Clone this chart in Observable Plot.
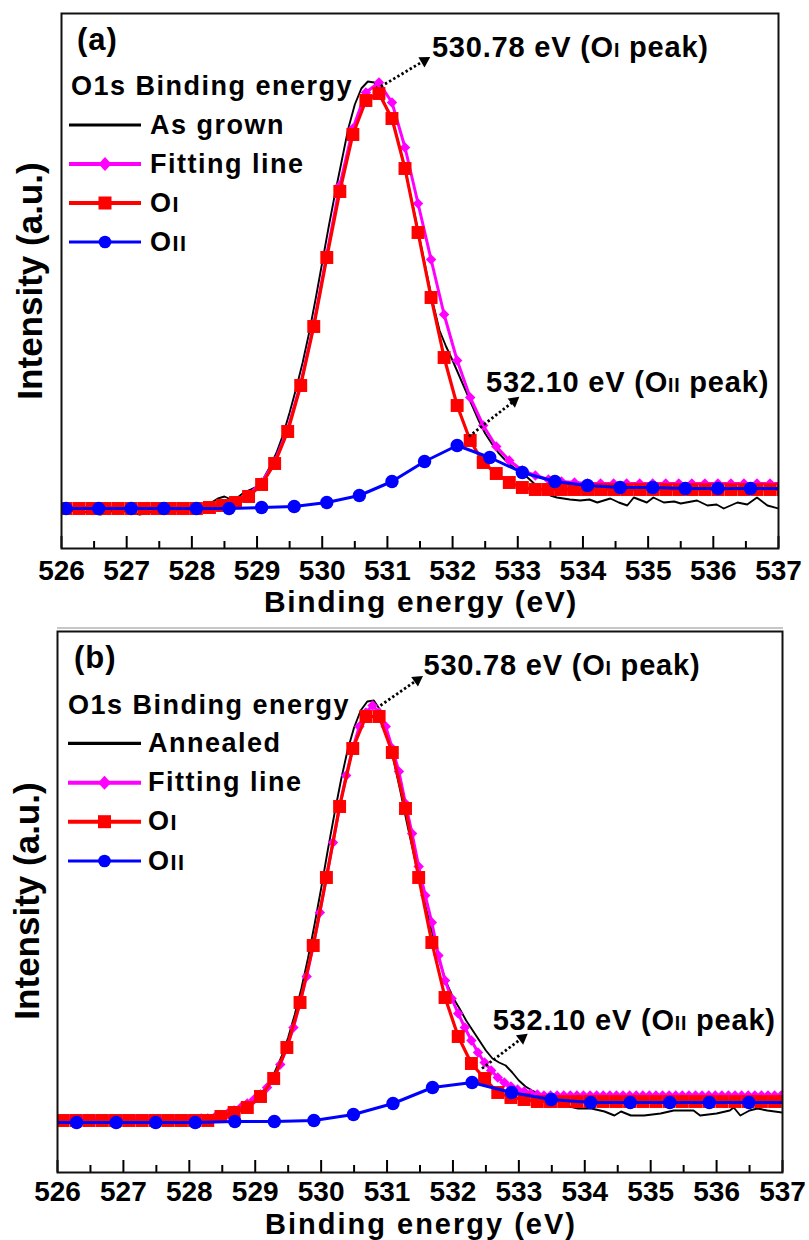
<!DOCTYPE html>
<html>
<head>
<meta charset="utf-8">
<script src="https://cdn.jsdelivr.net/npm/d3@7"></script>
<script src="https://cdn.jsdelivr.net/npm/@observablehq/plot@0.6"></script>
<style>
  html, body { margin: 0; padding: 0; background: #fff; }
  #wrap { width: 809px; height: 1240px; overflow: hidden; position: relative; }
  #wrap svg { display: block; }
  #wrap [aria-label="x-axis tick label"] text { font-weight: bold; }
</style>
</head>
<body>
<div id="wrap"></div>
<script>
// ---------------- DATA (binding energy in eV, intensity in a.u.) ----------------
// Panel (a): As grown
const gridA = [526.07, 526.27, 526.47, 526.67, 526.87, 527.07, 527.27, 527.47, 527.67, 527.87,
  528.07, 528.27, 528.47, 528.67, 528.87, 529.07, 529.27, 529.47, 529.67, 529.87,
  530.07, 530.27, 530.47, 530.67, 530.87, 531.07, 531.27, 531.47, 531.67, 531.87,
  532.07, 532.27, 532.47, 532.67, 532.87, 533.07, 533.27, 533.47, 533.67, 533.87,
  534.07, 534.27, 534.47, 534.67, 534.87, 535.07, 535.27, 535.47, 535.67, 535.87,
  536.07, 536.27, 536.47, 536.67, 536.87, 537.07];
const o1A = [40, 40, 40, 40, 40, 40, 40, 40, 40, 40, 40,
  41, 43, 46, 52, 64, 85, 117, 163, 222,
  291, 357, 414, 448, 455, 430, 380, 316, 251, 191,
  143, 108, 86, 75, 66, 61,
  59, 59, 59, 59, 59, 59, 59, 59, 59, 59, 59, 59, 59, 59, 59, 59, 59, 59, 59, 59];
const fitA = [41, 41, 41, 41, 41, 41, 41, 41, 41, 41, 41,
  42, 43, 47, 54, 66, 87, 119, 165, 224,
  294, 363, 420, 456, 466, 446, 401, 345, 289, 234,
  188, 151, 123, 102, 88, 78, 73, 69, 67, 66,
  65, 65, 65, 65, 65, 65, 65, 65, 65, 65, 65, 65, 65, 65, 65, 65];
const expAx = [526.0, 526.2, 526.4, 526.6, 526.8, 527.0, 527.2, 527.4, 527.6, 527.8, 528.0,
  528.2, 528.3, 528.4, 528.5, 528.6, 528.7, 528.8, 528.9, 529.0, 529.1, 529.2,
  529.3, 529.4, 529.5, 529.6, 529.7, 529.8, 529.9, 530.0, 530.1, 530.2,
  530.3, 530.4, 530.5, 530.6, 530.7, 530.8, 530.9, 531.0, 531.1, 531.2,
  531.3, 531.4, 531.5, 531.6, 531.7, 531.8, 531.9, 532.0, 532.1, 532.2,
  532.3, 532.4, 532.5, 532.6, 532.7, 532.8, 532.9, 533.0, 533.1, 533.2,
  533.3, 533.4, 533.5, 533.6,
  533.8, 533.96, 534.1, 534.22, 534.42, 534.55, 534.68, 534.78, 534.98, 535.08, 535.24,
  535.4, 535.5, 535.75, 535.91, 536.05, 536.16, 536.37, 536.52, 536.67, 536.83, 537.0];
const expAy = [37, 38, 36, 34, 38, 37, 34, 37, 38, 38, 39,
  42, 46, 50, 52, 49, 51, 56, 59, 62, 70, 82,
  96, 114, 136, 160, 186, 216, 250, 286, 322, 356,
  388, 420, 444, 460, 467, 466, 454, 438, 423, 398,
  370, 340, 308, 276, 245, 218, 202, 188, 173, 158,
  143, 128, 115, 105, 96, 89, 83, 78, 74, 68,
  62, 57, 53, 51,
  49, 48, 49, 46, 50, 46, 43, 51, 46, 51, 46,
  47, 45, 48, 43, 44, 40, 46, 44, 51, 43, 40];
const o2Ax = [526.07, 526.57, 527.07, 527.57, 528.07, 528.57, 529.07, 529.57, 530.07, 530.57, 531.07,
  531.57, 532.07, 532.57, 533.07, 533.57, 534.07, 534.57, 535.07, 535.57, 536.07, 536.57, 537.0];
const o2Ay = [40, 40, 40, 40, 40, 40, 41, 42, 46, 53, 67,
  87, 103, 91, 76, 67, 63, 61, 61, 60, 60, 60, 60];

// Panel (b): Annealed
const gridB = [526.08, 526.28, 526.48, 526.68, 526.88, 527.08, 527.28, 527.48, 527.68, 527.88,
  528.08, 528.28, 528.48, 528.68, 528.88, 529.08, 529.28, 529.48, 529.68, 529.88,
  530.08, 530.28, 530.48, 530.68, 530.88, 531.08, 531.28, 531.48, 531.68, 531.88,
  532.08, 532.28, 532.48, 532.68, 532.88, 533.08, 533.28, 533.48, 533.68, 533.88,
  534.08, 534.28, 534.48, 534.68, 534.88, 535.08, 535.28, 535.48, 535.68, 535.88,
  536.08, 536.28, 536.48, 536.68, 536.88, 537.08];
const o1B = [52, 52, 52, 52, 52, 52, 52, 52, 52, 52, 52, 52,
  56, 60, 65, 76, 94, 125, 170, 227,
  295, 366, 424, 456, 456, 420, 364, 295, 230, 175,
  136, 109, 94, 80, 75, 73,
  71, 71, 71, 71, 71, 71, 71, 71, 71, 71, 71, 71, 71, 71, 71, 71, 71, 71, 71, 71];
const fitBx = [526.08, 526.18, 526.28, 526.38, 526.48, 526.58, 526.68, 526.78, 526.88, 526.98,
  527.08, 527.18, 527.28, 527.38, 527.48, 527.58, 527.68, 527.78, 527.88, 527.98,
  528.08, 528.18, 528.28, 528.38, 528.48, 528.58, 528.68, 528.78, 528.88, 528.98,
  529.08, 529.18, 529.28, 529.38, 529.48, 529.58, 529.68, 529.78, 529.88, 529.98,
  530.08, 530.18, 530.28, 530.38, 530.48, 530.58, 530.68, 530.78, 530.88, 530.98,
  531.08, 531.18, 531.28, 531.38, 531.48, 531.58, 531.68, 531.78, 531.88, 531.98,
  532.08, 532.18, 532.28, 532.38, 532.48, 532.58, 532.68, 532.78, 532.88, 532.98,
  533.08, 533.18, 533.28, 533.38, 533.48, 533.58, 533.68, 533.78, 533.88, 533.98,
  534.08, 534.18, 534.28, 534.38, 534.48, 534.58, 534.68, 534.78, 534.88, 534.98,
  535.08, 535.18, 535.28, 535.38, 535.48, 535.58, 535.68, 535.78, 535.88, 535.98,
  536.08, 536.18, 536.28, 536.38, 536.48, 536.58, 536.68, 536.78, 536.88, 536.98];
const fitB = [53, 53, 53, 53, 53, 53, 53, 53, 53, 53,
  53, 53, 53, 53, 53, 53, 53, 53, 53, 53,
  53, 54, 54, 55, 57, 59, 62, 65, 69, 73,
  78, 85, 94, 108, 125, 145, 170, 196, 227, 260,
  295, 330, 366, 397, 424, 446, 460, 467, 460, 446,
  424, 401, 369, 339, 306, 277, 250, 217, 192, 174,
  159, 145, 132, 120, 110, 102, 95, 90, 86, 83,
  81, 79, 78, 77, 77, 77, 77, 77, 77, 77,
  77, 77, 77, 77, 77, 77, 77, 77, 77, 77,
  77, 77, 77, 77, 77, 77, 77, 77, 77, 77,
  77, 77, 77, 77, 77, 77, 77, 77, 77, 77];
const expBx = [526.0, 526.3, 526.6, 526.9, 527.2, 527.5, 527.8, 528.1, 528.3,
  528.4, 528.5, 528.6, 528.7, 528.8, 528.9, 529.0, 529.1, 529.2, 529.3,
  529.4, 529.5, 529.6, 529.7, 529.8, 529.9, 530.0, 530.1, 530.2, 530.3,
  530.4, 530.5, 530.6, 530.7, 530.8, 530.9, 531.0, 531.1, 531.2, 531.3,
  531.4, 531.5, 531.6, 531.7, 531.8, 531.9, 532.0, 532.1, 532.2, 532.3,
  532.4, 532.5, 532.6, 532.7, 532.8, 532.9, 533.0, 533.1, 533.2, 533.3,
  533.5, 533.7, 533.9, 534.1, 534.3, 534.45, 534.55, 534.7, 534.9, 535.15, 535.35,
  535.65, 535.75, 536.0, 536.2, 536.26, 536.36, 536.5, 536.62, 536.77, 537.0];
const expBy = [51, 50, 52, 50, 51, 52, 50, 52, 53,
  54, 56, 58, 61, 65, 69, 74, 80, 89, 101,
  116, 135, 158, 184, 214, 248, 284, 322, 358, 392,
  422, 445, 462, 471, 472, 462, 439, 412, 382, 350,
  320, 290, 262, 236, 210, 190, 175, 164, 152, 142,
  132, 122, 114, 110, 107, 100, 92, 86, 82, 79,
  73, 67, 64, 64, 61, 57, 61, 57, 57, 59, 62,
  62, 57, 59, 62, 65, 57, 62, 64, 62, 60];
const o2Bx = [526.0, 526.29, 526.89, 527.49, 528.09, 528.69, 529.29, 529.89, 530.49, 531.09,
  531.69, 532.29, 532.89, 533.49, 534.09, 534.69, 535.29, 535.89, 536.49, 537.0];
const o2By = [50, 50, 50, 50, 50, 51, 51, 52, 58, 69,
  85, 90, 80, 73, 70, 70, 70, 70, 70, 70];

// Axis ticks
const majorTicks = [526, 527, 528, 529, 530, 531, 532, 533, 534, 535, 536, 537];
const minorTicks = [526.5, 527.5, 528.5, 529.5, 530.5, 531.5, 532.5, 533.5, 534.5, 535.5, 536.5];

// Texts
const xTitle = "Binding energy (eV)";
const yTitle = "Intensity (a.u.)";
const legendTitle = "O1s Binding energy";
const sampleNames = ["As grown", "Annealed"];
const panelLabels = ["(a)", "(b)"];

// Peak annotations: text anchor (tx, ty), arrow from (x1,y1) to (x2,y2)
const annotA = [
  {parts: [["530.78 eV (O", 0], ["I", 1], [" peak)", 0]], tx: 531.69, ty: 491, x1: 530.9, y1: 462, x2: 531.62, y2: 490},
  {parts: [["532.10 eV (O", 0], ["II", 1], [" peak)", 0]], tx: 532.52, ty: 156, x1: 532.25, y1: 112, x2: 532.99, y2: 150}
];
const annotB = [
  {parts: [["530.78 eV (O", 0], ["I", 1], [" peak)", 0]], tx: 531.56, ty: 497, x1: 530.9, y1: 467, x2: 531.51, y2: 495},
  {parts: [["532.10 eV (O", 0], ["II", 1], [" peak)", 0]], tx: 532.61, ty: 142, x1: 532.44, y1: 104, x2: 533.10, y2: 137}
];

// ---------------- DRAWING ----------------
const FONT = '"Liberation Sans", Arial, Helvetica, sans-serif';
const C_EXP = "#000000", C_FIT = "#ff00ff", C_O1 = "#ff0000", C_O2 = "#0000ff";
const rows = (xs, ys) => xs.map((x, i) => ({x, y: ys[i]}));

function drawText(g, o) {
  const size = o.size;
  const t = g.append("text")
    .attr("text-anchor", o.anchor || "start")
    .attr("font-size", size)
    .attr("font-weight", "bold")
    .attr("fill", "#000")
    .style("font-family", FONT)
    .style("letter-spacing", (o.ls || 0) + "px");
  if (o.rotate != null) t.attr("transform", `translate(${o.x},${o.y}) rotate(${o.rotate})`);
  else t.attr("x", o.x).attr("y", o.y);
  for (const [s, sub] of o.parts) {
    t.append("tspan").attr("font-size", sub ? size * (o.sub || 0.67) : size).text(s);
  }
}

function makePanel(p) {
  const fh = p.height - p.mt - p.mb;
  const fw = 809 - p.ml - p.mr;
  const pxX = fw / (537 - 526), pxY = fh / (p.yDomain[1] - p.yDomain[0]);
  // arrow geometry (pixel direction, used for head orientation)
  const geom = p.annot.map(a => {
    const dx = (a.x2 - a.x1) * pxX, dy = (a.y2 - a.y1) * pxY;
    const len = Math.hypot(dx, dy);
    const back = 4 / len, cut = 6 / len;
    return {
      ...a,
      angle: Math.atan2(dx, dy) * 180 / Math.PI,
      hx: a.x2 - back * (a.x2 - a.x1), hy: a.y2 - back * (a.y2 - a.y1),
      ex: a.x2 - cut * (a.x2 - a.x1), ey: a.y2 - cut * (a.y2 - a.y1)
    };
  });
  const nO2 = p.o2.length;
  const chart = Plot.plot({
    width: 809,
    height: p.height,
    marginTop: p.mt, marginRight: p.mr, marginBottom: p.mb, marginLeft: p.ml,
    style: {fontFamily: FONT, background: "white", overflow: "visible", color: "#000"},
    x: {domain: [526, 537]},
    y: {domain: p.yDomain, axis: null},
    marks: [
      Plot.line(p.exp, {x: "x", y: "y", stroke: C_EXP, strokeWidth: 1.9, clip: true}),
      Plot.line(p.fit, {x: "x", y: "y", stroke: C_FIT, strokeWidth: 3, clip: true}),
      Plot.dot(p.fit, {x: "x", y: "y", symbol: "diamond2", r: 4.7, fill: C_FIT, clip: true}),
      Plot.line(p.o1, {x: "x", y: "y", stroke: C_O1, strokeWidth: 3.2, clip: true}),
      Plot.dot(p.o1, {x: "x", y: "y", symbol: "square", r: 7.3, fill: C_O1, clip: true}),
      Plot.line(p.o2, {x: "x", y: "y", stroke: C_O2, strokeWidth: 3, clip: true}),
      Plot.dot(p.o2, {x: "x", y: "y", symbol: "circle", r: 6.7, fill: C_O2, clip: true,
        filter: (d, i) => i >= p.o2Skip && i < nO2 - 1}),
      Plot.link(geom, {x1: "x1", y1: "y1", x2: "ex", y2: "ey", stroke: "#000", strokeWidth: 2.8, strokeDasharray: "2.4,2.4"}),
      Plot.dot(geom, {x: "hx", y: "hy", symbol: "triangle", r: 4.4, fill: "#000", rotate: "angle"}),
      Plot.ruleX(majorTicks, {x: d => d, insetTop: fh - 12, stroke: "#000", strokeWidth: 2}),
      Plot.ruleX(minorTicks, {x: d => d, insetTop: fh - 7, stroke: "#000", strokeWidth: 2}),
      Plot.frame({stroke: "#111", strokeWidth: 2}),
      Plot.axisX(majorTicks, {tickSize: 0, tickPadding: p.tickPad, fontSize: 28, fontWeight: "bold",
        label: null, tickFormat: d => String(d)})
    ]
  });

  const svg = d3.select(chart);
  const X = chart.scale("x"), Y = chart.scale("y");
  const g = svg.append("g");

  if (p.divider) {
    g.append("line").attr("x1", 57).attr("x2", 783).attr("y1", p.divider).attr("y2", p.divider)
      .attr("stroke", "#b4b4b4").attr("stroke-width", 1.3);
  }

  // panel label
  drawText(g, {x: p.labelX, y: p.labelY, parts: [[p.label, 0]], size: 31, ls: 1});
  // legend
  drawText(g, {x: p.legTitleX, y: p.legTitleY, parts: [[legendTitle, 0]], size: 27, ls: 1.5});
  const entries = [
    {parts: [[p.sample, 0]], color: C_EXP, lw: 3.2, shape: null},
    {parts: [["Fitting line", 0]], color: C_FIT, lw: 4, shape: "diamond"},
    {parts: [["O", 0], ["I", 1]], color: C_O1, lw: 4, shape: "square"},
    {parts: [["O", 0], ["II", 1]], color: C_O2, lw: 3.2, shape: "circle"}
  ];
  entries.forEach((e, i) => {
    const y = p.legY[i];
    g.append("line").attr("x1", p.legX1).attr("x2", p.legX2).attr("y1", y).attr("y2", y)
      .attr("stroke", e.color).attr("stroke-width", e.lw);
    const cx = (p.legX1 + p.legX2) / 2;
    if (e.shape === "square") g.append("rect").attr("x", cx - 6.5).attr("y", y - 6.5).attr("width", 13).attr("height", 13).attr("fill", e.color);
    if (e.shape === "circle") g.append("circle").attr("cx", cx).attr("cy", y).attr("r", 6.3).attr("fill", e.color);
    if (e.shape === "diamond") g.append("path").attr("d", `M${cx},${y - 7}L${cx + 6.5},${y}L${cx},${y + 7}L${cx - 6.5},${y}Z`).attr("fill", e.color);
    drawText(g, {x: p.legTextX, y: y + 8.5, parts: e.parts, size: 27, ls: 1.5, sub: 0.8});
  });

  // annotations text (data anchored)
  p.annot.forEach(a => {
    drawText(g, {x: X.apply(a.tx), y: Y.apply(a.ty), parts: a.parts, size: 29, ls: 0.8, sub: 0.67});
  });

  // axis titles
  drawText(g, {x: p.xTitleX, y: p.xTitleY, parts: [[xTitle, 0]], size: p.xTitleSize, ls: p.xTitleLs, anchor: "middle"});
  drawText(g, {x: p.yTitleX, y: p.yTitleY, parts: [[yTitle, 0]], size: 35, ls: 0, anchor: "middle", rotate: -90});

  return chart;
}

const wrap = document.getElementById("wrap");
wrap.appendChild(makePanel({
  height: 620, mt: 13, mb: 72, ml: 61, mr: 31, yDomain: [0, 535], tickPad: 12,
  exp: rows(expAx, expAy), fit: rows(gridA, fitA), o1: rows(gridA, o1A), o2: rows(o2Ax, o2Ay), o2Skip: 0,
  annot: annotA, sample: sampleNames[0], label: panelLabels[0],
  labelX: 77, labelY: 50, legTitleX: 71, legTitleY: 95,
  legY: [125, 164, 203, 242], legX1: 69, legX2: 141, legTextX: 150,
  xTitleX: 421, xTitleY: 612, xTitleSize: 30, xTitleLs: 1.6, yTitleX: 42, yTitleY: 281, divider: null
}));
wrap.appendChild(makePanel({
  height: 620, mt: 11, mb: 68, ml: 57, mr: 27, yDomain: [0, 541], tickPad: 9,
  exp: rows(expBx, expBy), fit: rows(fitBx, fitB), o1: rows(gridB, o1B), o2: rows(o2Bx, o2By), o2Skip: 1,
  annot: annotB, sample: sampleNames[1], label: panelLabels[1],
  labelX: 74, labelY: 48, legTitleX: 68, legTitleY: 94,
  legY: [123.3, 162.7, 201.7, 241], legX1: 68, legX2: 141, legTextX: 148,
  xTitleX: 421, xTitleY: 613.6, xTitleSize: 29, xTitleLs: 2.0, yTitleX: 39, yTitleY: 281, divider: 8
}));
</script>
</body>
</html>
